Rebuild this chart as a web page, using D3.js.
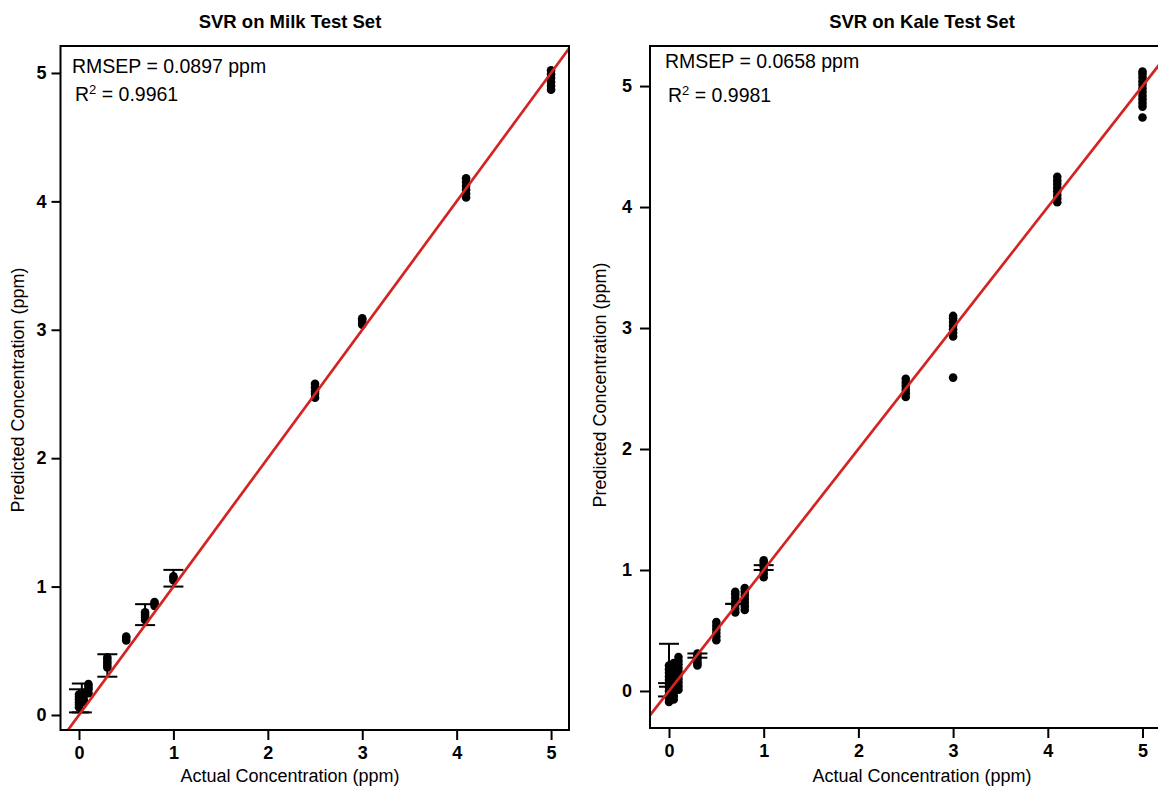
<!DOCTYPE html>
<html>
<head>
<meta charset="utf-8">
<script src="https://cdn.jsdelivr.net/npm/d3@7"></script>
<style>
  body { margin: 0; background: #fff; }
  svg { display: block; font-family: "Liberation Sans", Arial, sans-serif; }
</style>
</head>
<body>
<script>
// Actual concentrations (ppm) and predicted values for each test set
const milkConc = [0, 0.05, 0.1, 0.3, 0.5, 0.7, 0.8, 1.0, 2.5, 3.0, 4.1, 5.0];
const milkPred = [
  [0.06, 0.08, 0.1, 0.12, 0.14, 0.16],
  [0.1, 0.12, 0.15, 0.17],
  [0.17, 0.2, 0.22, 0.24],
  [0.37, 0.39, 0.41, 0.43, 0.45],
  [0.58, 0.6, 0.61],
  [0.74, 0.76, 0.78, 0.8],
  [0.85, 0.87, 0.88],
  [1.05, 1.07, 1.08],
  [2.47, 2.5, 2.52, 2.55, 2.58],
  [3.04, 3.06, 3.08, 3.09],
  [4.03, 4.06, 4.09, 4.12, 4.15, 4.18],
  [4.87, 4.9, 4.93, 4.96, 4.99, 5.02]
];
const milkErrX = [0, 0.03, 0.3, 0.7, 1.0];
const milkErrLo = [0.02, 0.02, 0.298, 0.70, 1.0];
const milkErrHi = [0.2, 0.245, 0.473, 0.863, 1.13];

const kaleConc = [0, 0.05, 0.1, 0.3, 0.5, 0.7, 0.8, 1.0, 2.5, 3.0, 4.1, 5.0];
const kalePred = [
  [-0.09, -0.06, -0.03, 0, 0.03, 0.06, 0.09, 0.12, 0.15, 0.18, 0.21],
  [-0.07, -0.04, -0.01, 0.02, 0.05, 0.08, 0.11, 0.14, 0.17, 0.2, 0.23],
  [0.01, 0.04, 0.07, 0.1, 0.13, 0.16, 0.19, 0.22, 0.25, 0.28],
  [0.21, 0.23, 0.25, 0.27, 0.29, 0.31],
  [0.42, 0.45, 0.48, 0.51, 0.54, 0.57],
  [0.65, 0.68, 0.71, 0.74, 0.77, 0.8, 0.82],
  [0.67, 0.7, 0.73, 0.76, 0.79, 0.82, 0.85],
  [0.94, 0.97, 1.0, 1.03, 1.06, 1.08],
  [2.43, 2.46, 2.49, 2.52, 2.55, 2.58],
  [2.59, 2.93, 2.96, 2.99, 3.02, 3.05, 3.08, 3.1],
  [4.04, 4.07, 4.1, 4.13, 4.16, 4.19, 4.22, 4.25],
  [4.74, 4.83, 4.86, 4.89, 4.92, 4.95, 4.98, 5.01, 5.04, 5.07, 5.1, 5.12]
];
const kaleErrX = [-0.01, 0, 0.3, 0.7, 1.0];
const kaleErrLo = [-0.045, 0.035, 0.275, 0.72, 1.0];
const kaleErrHi = [0.065, 0.39, 0.31, 0.72, 1.04];

const tickValues = [0, 1, 2, 3, 4, 5];

const svg = d3.select('body')
  .append('svg')
  .attr('width', 1158)
  .attr('height', 788);

function drawPanel(p) {
  const x = d3.scaleLinear().domain(p.xDomain).range([p.left, p.right]);
  const y = d3.scaleLinear().domain(p.yDomain).range([p.bottom, p.top]);
  const g = svg.append('g');

  g.append('clipPath').attr('id', p.id)
    .append('rect')
    .attr('x', p.left).attr('y', p.top)
    .attr('width', p.right - p.left).attr('height', p.bottom - p.top);

  // points
  const pts = [];
  p.conc.forEach((c, i) => p.pred[i].forEach(v => pts.push([c, v])));
  g.append('g').selectAll('circle')
    .data(pts)
    .enter()
    .append('circle')
    .attr('cx', d => x(d[0]))
    .attr('cy', d => y(d[1]))
    .attr('r', 4.3)
    .attr('fill', '#000');

  // error bars
  const eb = g.append('g').attr('stroke', '#000').attr('stroke-width', 2);
  p.errX.forEach((ex, i) => {
    eb.append('line')
      .attr('x1', x(ex)).attr('x2', x(ex))
      .attr('y1', y(p.errLo[i])).attr('y2', y(p.errHi[i]));
    [p.errLo[i], p.errHi[i]].forEach(v => {
      eb.append('line')
        .attr('x1', x(ex) - 10).attr('x2', x(ex) + 10)
        .attr('y1', y(v)).attr('y2', y(v));
    });
  });

  // identity line
  g.append('line')
    .attr('clip-path', `url(#${p.id})`)
    .attr('x1', x(p.xDomain[0] - 1)).attr('y1', y(p.xDomain[0] - 1))
    .attr('x2', x(p.xDomain[1] + 1)).attr('y2', y(p.xDomain[1] + 1))
    .attr('stroke', '#d42323')
    .attr('stroke-width', 2.7);

  // frame
  g.append('rect')
    .attr('x', p.left).attr('y', p.top)
    .attr('width', p.right - p.left).attr('height', p.bottom - p.top)
    .attr('fill', 'none')
    .attr('stroke', '#000')
    .attr('stroke-width', 2);

  // axes
  const xAxis = g.append('g')
    .attr('transform', `translate(0, ${p.bottom})`)
    .call(d3.axisBottom(x).tickValues(tickValues).tickSize(10).tickPadding(6).tickFormat(d3.format('d')));
  const yAxis = g.append('g')
    .attr('transform', `translate(${p.left}, 0)`)
    .call(d3.axisLeft(y).tickValues(tickValues).tickSize(p.yTick).tickPadding(p.yPad).tickFormat(d3.format('d')));
  [xAxis, yAxis].forEach(a => {
    a.select('.domain').remove();
    a.selectAll('line').attr('stroke', '#000').attr('stroke-width', 2);
    a.selectAll('text')
      .attr('fill', '#000')
      .style('font-size', '18px')
      .style('font-weight', 'bold')
      .style('font-family', '"Liberation Sans", Arial, sans-serif');
  });

  // titles
  g.append('text')
    .attr('x', p.titleX).attr('y', 28)
    .attr('text-anchor', 'middle')
    .style('font-size', '18.5px')
    .style('font-weight', 'bold')
    .text(p.title);

  g.append('text')
    .attr('x', p.titleX).attr('y', 782)
    .attr('text-anchor', 'middle')
    .style('font-size', '18px')
    .text('Actual Concentration (ppm)');

  g.append('text')
    .attr('transform', `translate(${p.yLabelX}, ${p.yLabelY}) rotate(-90)`)
    .attr('text-anchor', 'middle')
    .style('font-size', '18px')
    .text('Predicted Concentration (ppm)');

  g.append('text')
    .attr('x', p.annX).attr('y', p.annY)
    .style('font-size', '19.5px')
    .text(p.rmsep);
  const r2 = g.append('text')
    .attr('x', p.annX + 3).attr('y', p.annY2)
    .style('font-size', '19.5px');
  r2.append('tspan').text('R');
  r2.append('tspan').attr('dy', -7).style('font-size', '13px').text('2');
  r2.append('tspan').attr('dy', 7).text(' = ' + p.r2);
}

drawPanel({
  id: 'clipMilk', title: 'SVR on Milk Test Set',
  conc: milkConc, pred: milkPred,
  errX: milkErrX, errLo: milkErrLo, errHi: milkErrHi,
  left: 60.5, right: 569, top: 46, bottom: 730,
  xDomain: [-0.196, 5.19], yDomain: [-0.117, 5.21],
  yTick: 9, yPad: 5,
  titleX: 290, yLabelX: 24, yLabelY: 390,
  annX: 72, annY: 73, annY2: 101,
  rmsep: 'RMSEP = 0.0897 ppm', r2: '0.9961'
});

drawPanel({
  id: 'clipKale', title: 'SVR on Kale Test Set',
  conc: kaleConc, pred: kalePred,
  errX: kaleErrX, errLo: kaleErrLo, errHi: kaleErrHi,
  left: 650, right: 1165, top: 46, bottom: 728,
  xDomain: [-0.2006, 5.2376], yDomain: [-0.306, 5.331],
  yTick: 10, yPad: 8,
  titleX: 922, yLabelX: 606, yLabelY: 385,
  annX: 665, annY: 68, annY2: 102,
  rmsep: 'RMSEP = 0.0658 ppm', r2: '0.9981'
});
</script>
</body>
</html>
